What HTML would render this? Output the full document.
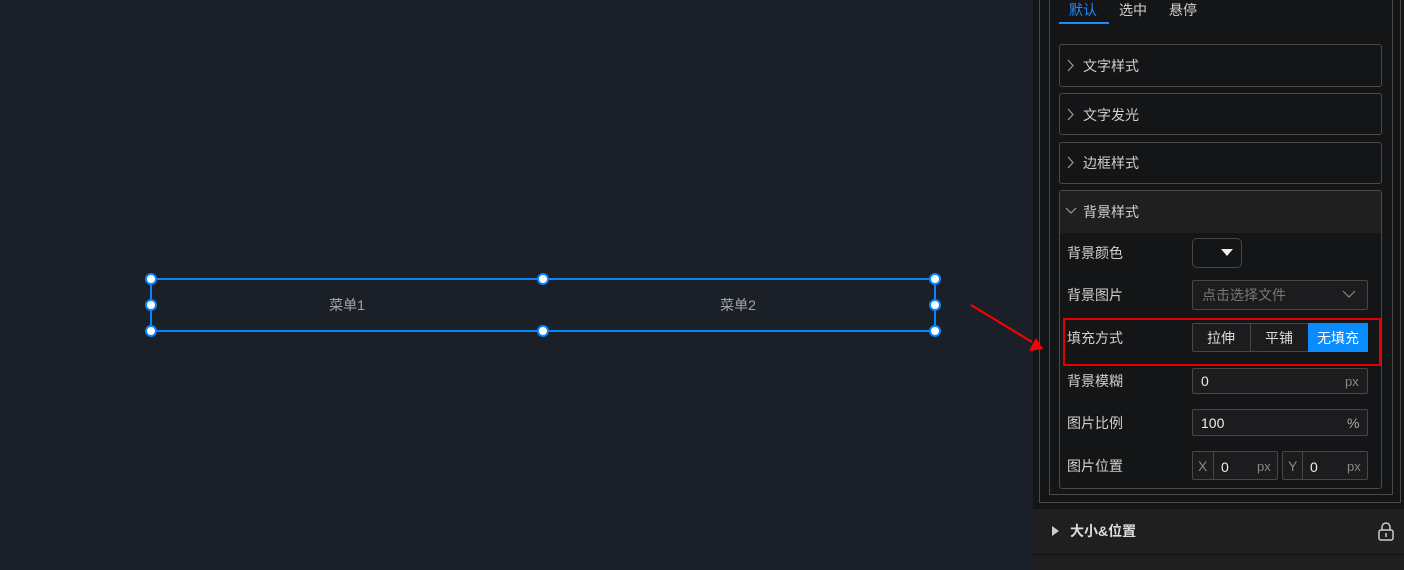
<!DOCTYPE html>
<html><head><meta charset="utf-8"><style>
*{margin:0;padding:0;box-sizing:border-box}
body{width:1404px;height:570px;overflow:hidden;background:#1b2028;font-family:"Liberation Sans","Noto Sans CJK SC",sans-serif;position:relative}
.a{position:absolute}
.t{position:absolute;font-size:14px;color:#d0d0d0;line-height:16px;white-space:nowrap}
.sec{position:absolute;left:1059px;width:323px;border:1px solid #4a4a4a;border-radius:3px}
.inp{position:absolute;border:1px solid #474747;border-radius:2px;background:#1c1c1e}
</style></head><body>
<svg class="a" style="left:0;top:0" width="1033" height="570">
<rect x="151" y="279" width="784" height="52" fill="none" stroke="#0a84ff" stroke-width="2"/>
<g fill="#fff" stroke="#0a84ff" stroke-width="2">
<circle cx="151" cy="279" r="5"/><circle cx="543" cy="279" r="5"/><circle cx="935" cy="279" r="5"/>
<circle cx="151" cy="305" r="5"/><circle cx="935" cy="305" r="5"/>
<circle cx="151" cy="331" r="5"/><circle cx="543" cy="331" r="5"/><circle cx="935" cy="331" r="5"/>
</g>
<text x="347" y="310" font-size="14" fill="#a0a4aa" text-anchor="middle" font-family="Liberation Sans,Noto Sans CJK SC,sans-serif">菜单1</text>
<text x="738" y="310" font-size="14" fill="#a0a4aa" text-anchor="middle" font-family="Liberation Sans,Noto Sans CJK SC,sans-serif">菜单2</text>
<line x1="971" y1="305" x2="1032" y2="342" stroke="#f00" stroke-width="2"/>
</svg>
<div class="a" style="left:1033px;top:0;width:371px;height:509px;background:#141517"></div>
<svg class="a" style="left:1026px;top:330px" width="22" height="25"><polygon points="17,19 3,21 10,8" fill="#f00"/></svg>
<div class="a" style="left:1039px;top:-2px;width:362px;height:505px;border:1px solid #4a4a4a"></div>
<div class="a" style="left:1049px;top:-2px;width:344px;height:497px;border:1px solid #4a4a4a"></div>
<div class="t" style="left:1069px;top:2px;color:#1e8bff">默认</div>
<div class="t" style="left:1119px;top:2px">选中</div>
<div class="t" style="left:1169px;top:2px">悬停</div>
<div class="a" style="left:1059px;top:22px;width:50px;height:2px;background:#1e8bff"></div>

<div class="sec" style="top:44px;height:43px"></div>
<svg class="a" style="left:1067px;top:59px" width="8" height="13"><polyline points="1,1 6,6.5 1,12" fill="none" stroke="#999" stroke-width="1.2"/></svg>
<div class="t" style="left:1083px;top:58px">文字样式</div>
<div class="sec" style="top:93px;height:42px"></div>
<svg class="a" style="left:1067px;top:108px" width="8" height="13"><polyline points="1,1 6,6.5 1,12" fill="none" stroke="#999" stroke-width="1.2"/></svg>
<div class="t" style="left:1083px;top:107px">文字发光</div>
<div class="sec" style="top:142px;height:42px"></div>
<svg class="a" style="left:1067px;top:156px" width="8" height="13"><polyline points="1,1 6,6.5 1,12" fill="none" stroke="#999" stroke-width="1.2"/></svg>
<div class="t" style="left:1083px;top:155px">边框样式</div>
<div class="sec" style="top:190px;height:299px;overflow:hidden"><div style="height:42px;background:#1f1f1f"></div></div>
<svg class="a" style="left:1065px;top:206px" width="12" height="10"><polyline points="1,2 6,7 11,2" fill="none" stroke="#999" stroke-width="1.2"/></svg>
<div class="t" style="left:1083px;top:204px">背景样式</div>

<div class="t" style="left:1067px;top:245px">背景颜色</div>
<div class="inp" style="left:1192px;top:238px;width:50px;height:30px;border-radius:5px;background:#141517"></div>
<svg class="a" style="left:1221px;top:249px" width="12" height="8"><polygon points="0,0 12,0 6,7" fill="#eee"/></svg>
<div class="t" style="left:1067px;top:287px">背景图片</div>
<div class="inp" style="left:1192px;top:280px;width:176px;height:30px"></div>
<div class="t" style="left:1202px;top:287px;color:#777">点击选择文件</div>
<svg class="a" style="left:1342px;top:290px" width="14" height="9"><polyline points="1,1 7,7 13,1" fill="none" stroke="#888" stroke-width="1.2"/></svg>

<div class="t" style="left:1067px;top:330px">填充方式</div>
<div class="inp" style="left:1192px;top:323px;width:176px;height:29px"></div>
<div class="a" style="left:1250px;top:323px;width:1px;height:29px;background:#474747"></div>
<div class="a" style="left:1308px;top:323px;width:60px;height:29px;background:#0a8cff"></div>
<div class="t" style="left:1207px;top:330px;color:#ddd">拉伸</div>
<div class="t" style="left:1265px;top:330px;color:#ddd">平铺</div>
<div class="t" style="left:1317px;top:330px;color:#fff">无填充</div>
<div class="a" style="left:1063px;top:318px;width:318px;height:48px;border:2px solid #e00000"></div>

<div class="t" style="left:1067px;top:373px">背景模糊</div>
<div class="inp" style="left:1192px;top:368px;width:176px;height:26px"></div>
<div class="t" style="left:1201px;top:373px;color:#eee">0</div><div class="t" style="left:1345px;top:374px;color:#888;font-size:13px">px</div>
<div class="t" style="left:1067px;top:415px">图片比例</div>
<div class="inp" style="left:1192px;top:409px;width:176px;height:27px"></div>
<div class="t" style="left:1201px;top:415px;color:#eee">100</div><div class="t" style="left:1347px;top:415px;color:#aaa">%</div>
<div class="t" style="left:1067px;top:458px">图片位置</div>
<div class="inp" style="left:1192px;top:451px;width:86px;height:29px"></div>
<div class="a" style="left:1213px;top:451px;width:1px;height:29px;background:#474747"></div>
<div class="t" style="left:1198px;top:458px;color:#888">X</div><div class="t" style="left:1221px;top:459px;color:#eee">0</div><div class="t" style="left:1257px;top:459px;color:#888;font-size:13px">px</div>
<div class="inp" style="left:1282px;top:451px;width:86px;height:29px"></div>
<div class="a" style="left:1302px;top:451px;width:1px;height:29px;background:#474747"></div>
<div class="t" style="left:1288px;top:458px;color:#888">Y</div><div class="t" style="left:1310px;top:459px;color:#eee">0</div><div class="t" style="left:1347px;top:459px;color:#888;font-size:13px">px</div>

<div class="a" style="left:1033px;top:509px;width:371px;height:61px;background:#1f1f1f"></div>
<div class="a" style="left:1033px;top:554px;width:371px;height:1px;background:#111"></div>
<svg class="a" style="left:1052px;top:526px" width="8" height="11"><polygon points="0,0 7,5 0,10" fill="#ccc"/></svg>
<div class="t" style="left:1070px;top:523px;font-weight:bold;color:#ddd">大小&amp;位置</div>
<svg class="a" style="left:1377px;top:521px" width="18" height="20"><path d="M5,9 V6 a4,4 0 0 1 8,0 V9" fill="none" stroke="#ccc" stroke-width="1.5"/><rect x="2" y="9" width="14" height="10" rx="2" fill="none" stroke="#ccc" stroke-width="1.5"/><rect x="8.3" y="12" width="1.5" height="4" fill="#ccc"/></svg>
</body></html>
